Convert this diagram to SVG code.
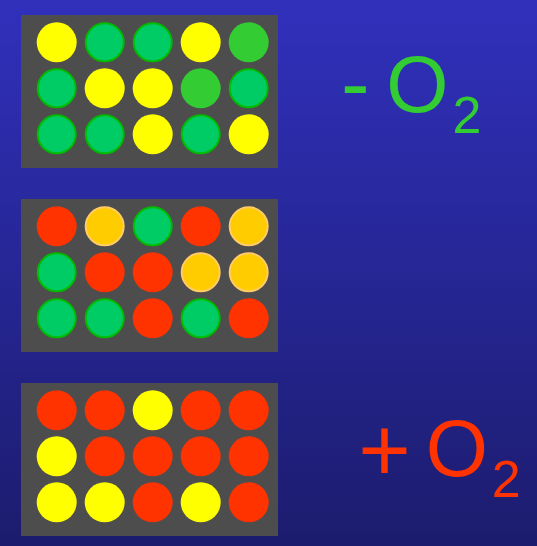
<svg xmlns="http://www.w3.org/2000/svg" width="537" height="546" viewBox="0 0 537 546">
<defs>
<linearGradient id="bg" x1="0" y1="0" x2="0" y2="1">
<stop offset="0" stop-color="#3030BC"/>
<stop offset="1" stop-color="#1C1C6E"/>
</linearGradient>
</defs>
<style>
.panel{fill:#4D4D4D}
.y{fill:#FFFF00}
.g{fill:#00CC66;stroke:#00BB00;stroke-width:2}
.lg{fill:#33CC33}
.o{fill:#FFCC00;stroke:#FFCC66;stroke-width:2}
.r{fill:#FF3300}
.lbl{font-family:"Liberation Sans",Arial,sans-serif}
</style>
<rect x="0" y="0" width="537" height="546" fill="url(#bg)"/>
<g id="plate1">
<rect class="panel" x="21" y="15" width="257" height="153"/>
<circle class="y" cx="56.7" cy="42.3" r="20"/>
<circle class="g" cx="104.7" cy="42.3" r="19"/>
<circle class="g" cx="152.7" cy="42.3" r="19"/>
<circle class="y" cx="200.7" cy="42.3" r="20"/>
<circle class="lg" cx="248.7" cy="42.3" r="20"/>
<circle class="g" cx="56.7" cy="88.3" r="19"/>
<circle class="y" cx="104.7" cy="88.3" r="20"/>
<circle class="y" cx="152.7" cy="88.3" r="20"/>
<circle class="lg" cx="200.7" cy="88.3" r="20"/>
<circle class="g" cx="248.7" cy="88.3" r="19"/>
<circle class="g" cx="56.7" cy="134.3" r="19"/>
<circle class="g" cx="104.7" cy="134.3" r="19"/>
<circle class="y" cx="152.7" cy="134.3" r="20"/>
<circle class="g" cx="200.7" cy="134.3" r="19"/>
<circle class="y" cx="248.7" cy="134.3" r="20"/>
</g>
<g id="plate2">
<rect class="panel" x="21" y="199" width="257" height="153"/>
<circle class="r" cx="56.7" cy="226.3" r="20"/>
<circle class="o" cx="104.7" cy="226.3" r="19"/>
<circle class="g" cx="152.7" cy="226.3" r="19"/>
<circle class="r" cx="200.7" cy="226.3" r="20"/>
<circle class="o" cx="248.7" cy="226.3" r="19"/>
<circle class="g" cx="56.7" cy="272.3" r="19"/>
<circle class="r" cx="104.7" cy="272.3" r="20"/>
<circle class="r" cx="152.7" cy="272.3" r="20"/>
<circle class="o" cx="200.7" cy="272.3" r="19"/>
<circle class="o" cx="248.7" cy="272.3" r="19"/>
<circle class="g" cx="56.7" cy="318.3" r="19"/>
<circle class="g" cx="104.7" cy="318.3" r="19"/>
<circle class="r" cx="152.7" cy="318.3" r="20"/>
<circle class="g" cx="200.7" cy="318.3" r="19"/>
<circle class="r" cx="248.7" cy="318.3" r="20"/>
</g>
<g id="plate3">
<rect class="panel" x="21" y="383" width="257" height="153"/>
<circle class="r" cx="56.7" cy="410.3" r="20"/>
<circle class="r" cx="104.7" cy="410.3" r="20"/>
<circle class="y" cx="152.7" cy="410.3" r="20"/>
<circle class="r" cx="200.7" cy="410.3" r="20"/>
<circle class="r" cx="248.7" cy="410.3" r="20"/>
<circle class="y" cx="56.7" cy="456.3" r="20"/>
<circle class="r" cx="104.7" cy="456.3" r="20"/>
<circle class="r" cx="152.7" cy="456.3" r="20"/>
<circle class="r" cx="200.7" cy="456.3" r="20"/>
<circle class="r" cx="248.7" cy="456.3" r="20"/>
<circle class="y" cx="56.7" cy="502.3" r="20"/>
<circle class="y" cx="104.7" cy="502.3" r="20"/>
<circle class="r" cx="152.7" cy="502.3" r="20"/>
<circle class="y" cx="200.7" cy="502.3" r="20"/>
<circle class="r" cx="248.7" cy="502.3" r="20"/>
</g>
<g id="label-minus">
<text class="lbl" fill="#33CC33" word-spacing="-7.3" x="341.1" y="111.5"><tspan font-size="86">- </tspan><tspan font-size="80">O</tspan><tspan x="452.4" y="132.7" font-size="52">2</tspan></text>
</g>
<g id="label-plus">
<text class="lbl" fill="#FF3300" word-spacing="-10" x="358.2" y="480.7"><tspan font-size="90">+ </tspan><tspan y="476.3" font-size="80">O</tspan><tspan x="491.7" y="496.7" font-size="52">2</tspan></text>
</g>
</svg>
